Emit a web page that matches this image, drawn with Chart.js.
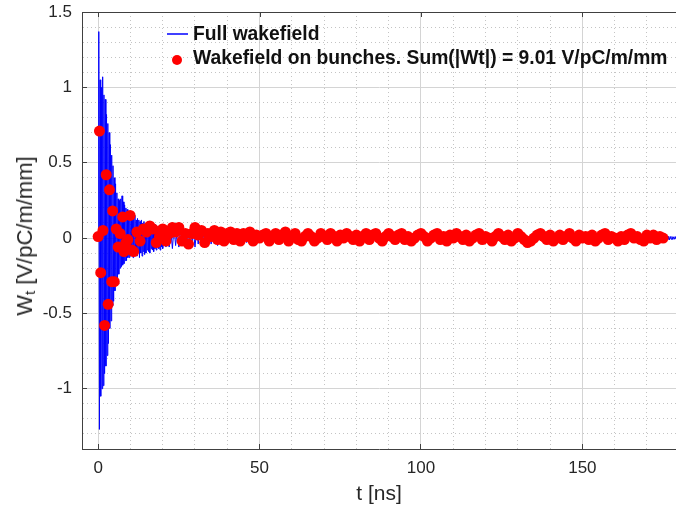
<!DOCTYPE html>
<html>
<head>
<meta charset="utf-8">
<script src="https://cdn.jsdelivr.net/npm/chart.js@4.4.1/dist/chart.umd.min.js"></script>
<style>
  body { margin: 0; background: #fff; overflow: hidden; }
  #wrap { position: relative; width: 676px; height: 508px; }
  #ytitle {
    position: absolute; left: 25px; top: 236px;
    transform: translate(-50%, -50%) rotate(-90deg);
    font: 22px "Liberation Sans", Arial, sans-serif; color: #262626; white-space: nowrap;
  }
  #ytitle sub { font-size: 15px; vertical-align: -3px; }
  #legend {
    position: absolute; left: 166px; top: 22px;
    font: bold 19.3px "Liberation Sans", Arial, sans-serif; color: #111;
  }
  .row { display: flex; align-items: center; height: 24px; white-space: nowrap; }
  .mk { width: 27px; position: relative; height: 24px; flex: none; }
  .ln { position: absolute; left: 1px; top: 11px; width: 21px; height: 2px; background: #4040ff; }
  .dot { position: absolute; left: 6px; top: 9px; width: 10px; height: 10px; border-radius: 50%; background: #ff0000; }
</style>
</head>
<body>
<div id="wrap">
  <canvas id="myChart" width="676" height="508"></canvas>
  <div id="ytitle">W<sub>t</sub> [V/pC/m/mm]</div>
  <div id="legend">
    <div class="row"><span class="mk"><span class="ln"></span></span>Full wakefield</div>
    <div class="row"><span class="mk"><span class="dot"></span></span>Wakefield on bunches. Sum(|Wt|) = 9.01 V/pC/m/mm</div>
  </div>
</div>
<script>
// full wakefield trace (t in ns, W in V/pC/m/mm)
const fullT = [
  0, 0.2, 0.4, 0.6, 0.8, 1, 1.2, 1.4, 1.6, 1.8,
  2, 2.2, 2.4, 2.6, 2.8, 3, 3.2, 3.4, 3.6, 3.8,
  4, 4.2, 4.4, 4.6, 4.8, 5, 5.2, 5.4, 5.6, 5.8,
  6, 6.2, 6.4, 6.6, 6.8, 7, 7.2, 7.4, 7.6, 7.8,
  8, 8.2, 8.4, 8.6, 8.8, 9, 9.2, 9.4, 9.6, 9.8,
  10, 10.2, 10.4, 10.6, 10.8, 11, 11.2, 11.4, 11.6, 11.8,
  12, 12.2, 12.4, 12.6, 12.8, 13, 13.2, 13.4, 13.6, 13.8,
  14, 14.2, 14.4, 14.6, 14.8, 15, 15.2, 15.4, 15.6, 15.8,
  16, 16.2, 16.4, 16.6, 16.8, 17, 17.2, 17.4, 17.6, 17.8,
  18, 18.2, 18.4, 18.6, 18.8, 19, 19.2, 19.4, 19.6, 19.8,
  20,
  20.5, 21, 21.5, 22, 22.5, 23, 23.5, 24, 24.5, 25,
  25.5, 26, 26.5, 27, 27.5, 28, 28.5, 29, 29.5, 30,
  30.5, 31, 31.5, 32, 32.5, 33, 33.5, 34, 34.5, 35,
  35.5, 36, 36.5, 37, 37.5, 38, 38.5, 39, 39.5, 40,
  40.5, 41, 41.5, 42, 42.5, 43, 43.5, 44, 44.5, 45,
  45.5, 46, 46.5, 47, 47.5, 48, 48.5, 49, 49.5, 50,
  54, 58, 62, 66, 70, 74, 78, 82, 86, 90, 94, 98, 102, 106, 110, 114,
  118, 122, 126, 130, 134, 138, 142, 146, 150, 154, 158, 162, 166, 170, 174,
  176, 176.25, 176.5, 176.75, 177, 177.25, 177.5, 177.75, 178, 178.25, 178.5, 178.75, 179
];
const fullW = [
  0, 1.37, -1.27, 1.05, -1.05, 1.0, -1.0, 1.07, -0.98, 0.95,
  -0.9, 0.92, -0.85, 0.82, -0.78, 0.76, -0.7, 0.7, -0.6, 0.62,
  -0.55, 0.55, -0.45, 0.48, -0.42, 0.4, -0.35, 0.36, -0.3, 0.3,
  -0.27, 0.26, -0.24, 0.25, -0.2, 0.26, -0.19, 0.28, -0.18, 0.24,
  -0.17, 0.22, -0.15, 0.2, -0.15, 0.19, -0.13, 0.18, -0.13, 0.16,
  -0.12, 0.16, -0.11, 0.14, -0.13, 0.13, -0.1, 0.15, -0.11, 0.12,
  -0.12, 0.13, -0.09, 0.12, -0.13, 0.11, -0.1, 0.12, -0.12, 0.1,
  -0.09, 0.11, -0.11, 0.09, -0.1, 0.1, -0.08, 0.11, -0.09, 0.09,
  -0.1, 0.08, -0.07, 0.1, -0.08, 0.09, -0.09, 0.08, -0.07, 0.09,
  -0.08, 0.07, -0.06, 0.08, -0.07, 0.07, -0.08, 0.06, -0.06, 0.07,
  -0.07,
  0.07, -0.06, 0.08, -0.06, 0.06, -0.07, 0.07, -0.05, 0.06, -0.06,
  0.07, -0.05, 0.05, -0.06, 0.06, -0.05, 0.06, -0.05, 0.05, -0.06,
  0.05, -0.04, 0.06, -0.05, 0.05, -0.05, 0.04, -0.05, 0.05, -0.04,
  0.05, -0.04, 0.04, -0.05, 0.05, -0.04, 0.04, -0.04, 0.05, -0.04,
  0.04, -0.03, 0.04, -0.04, 0.04, -0.03, 0.04, -0.04, 0.03, -0.03,
  0.04, -0.03, 0.03, -0.03, 0.04, -0.03, 0.03, -0.03, 0.03, -0.03,
  0.02, -0.02, 0.02, -0.01, 0.02, -0.02, 0.01, -0.02, 0.02, -0.01, 0.02, -0.01, 0.01, -0.02, 0.02, -0.01,
  0.01, -0.01, 0.02, -0.01, 0.01, -0.02, 0.01, -0.01, 0.01, -0.01, 0.02, -0.01, 0.01, -0.01, 0.01,
  -0.01, 0.012, -0.01, 0.01, -0.012, 0.01, -0.008, 0.01, -0.01, 0.008, -0.008, 0.01, -0.008
];

// wakefield sampled on the bunches
const bunchT = [
  0, 0.4, 0.8, 1.5, 2, 2.5, 3.1, 3.5, 4.2, 4.5, 5, 5.6, 6.2, 6.8, 7.6, 8, 8.6, 9.2, 9.9, 10.4,
  11, 12, 13, 14, 15, 16, 17, 18, 19, 20,
  21, 22, 23, 24, 25, 26, 27, 28, 29, 30,
  31, 32, 33, 34, 35, 36, 37, 38, 39, 40,
  41, 42, 43, 44, 45, 46, 47, 48, 49, 50,
  51, 52, 53, 54, 55, 56, 57, 58, 59, 60,
  61, 62, 63, 64, 65, 66, 67, 68, 69, 70,
  71, 72, 73, 74, 75, 76, 77, 78, 79, 80,
  81, 82, 83, 84, 85, 86, 87, 88, 89, 90,
  91, 92, 93, 94, 95, 96, 97, 98, 99, 100,
  101, 102, 103, 104, 105, 106, 107, 108, 109, 110,
  111, 112, 113, 114, 115, 116, 117, 118, 119, 120,
  121, 122, 123, 124, 125, 126, 127, 128, 129, 130,
  131, 132, 133, 134, 135, 136, 137, 138, 139, 140,
  141, 142, 143, 144, 145, 146, 147, 148, 149, 150,
  151, 152, 153, 154, 155, 156, 157, 158, 159, 160,
  161, 162, 163, 164, 165, 166, 167, 168, 169, 170,
  171, 172, 173, 174, 175
];
const bunchW = [
  0.01, 0.71, -0.23, 0.05, -0.58, 0.42, -0.44, 0.32, -0.29, 0.18, -0.29, 0.06, -0.06, 0.03, 0.14, -0.09, -0.03, -0.01, 0.15, -0.08,
  -0.09, 0.04, -0.02, 0.06, 0.04, 0.08, 0.06, -0.03, 0.01, 0.06,
  -0.02, 0.03, 0.07, 0.04, 0.07, -0.02, 0.03, -0.04, 0.03, 0.07,
  0.02, 0.05, -0.03, 0.03, 0.01, 0.05, -0.01, 0.04, -0.02, 0.03,
  0.04, -0.01, 0.03, -0.02, 0.03, 0.01, 0.04, -0.02, 0.02, 0,
  0.02, 0.03, -0.02, 0.01, 0.03, -0.01, 0.02, 0.04, -0.02, 0.01,
  0.03, -0.01, -0.02, 0.01, 0.03, 0.01, -0.02, 0, 0.03, 0.01,
  -0.01, 0.03, 0.01, -0.02, 0.02, 0, 0.03, 0.01, -0.01, 0.02,
  -0.02, 0.01, 0.03, -0.01, 0.02, 0.03, 0, -0.02, 0.01, 0.03,
  0.01, -0.01, 0.02, 0.03, -0.01, 0.01, -0.02, 0, 0.02, 0.03,
  0.01, -0.02, 0, 0.02, 0.03, -0.01, 0.01, -0.02, 0.02, 0,
  0.03, 0.01, -0.01, 0.02, -0.02, 0, 0.02, 0.03, -0.01, 0.01,
  0, -0.02, 0.01, 0.03, 0.01, -0.01, 0.02, -0.02, 0, 0.03,
  0.01, -0.01, -0.03, -0.02, 0, 0.02, 0.03, 0.01, -0.01, 0.02,
  -0.02, 0, 0.02, -0.01, 0.01, 0.03, 0, -0.02, 0.02, 0,
  0.01, -0.01, 0.02, -0.02, 0, 0.02, 0.03, -0.01, 0.01, 0,
  -0.02, 0.01, -0.01, 0.02, 0.03, 0, 0.01, -0.01, -0.02, 0.02,
  0, 0.02, -0.01, 0.01, 0
];

// axis ticks
const xTicks = [0, 10, 20, 30, 40, 50, 60, 70, 80, 90, 100, 110, 120, 130, 140, 150, 160, 170];
const xLabels = [0, 50, 100, 150];
const yTicks = [-1.3, -1.2, -1.1, -1, -0.9, -0.8, -0.7, -0.6, -0.5, -0.4, -0.3, -0.2, -0.1, 0,
  0.1, 0.2, 0.3, 0.4, 0.5, 0.6, 0.7, 0.8, 0.9, 1, 1.1, 1.2, 1.3, 1.4, 1.5];
const yLabels = [-1, -0.5, 0, 0.5, 1, 1.5];

const frameColor = '#404040';
const isMajorX = c => c.tick && xLabels.includes(c.tick.value);
const isMajorY = c => c.tick && yLabels.includes(c.tick.value);

// top edge of the box, with inward ticks like the octave frame
const boxFrame = {
  id: 'boxFrame',
  afterDraw(chart) {
    const {ctx, chartArea: a, scales} = chart;
    ctx.save();
    ctx.strokeStyle = frameColor;
    ctx.lineWidth = 1;
    ctx.beginPath();
    ctx.moveTo(a.left, a.top + 0.5);
    ctx.lineTo(a.right, a.top + 0.5);
    xLabels.forEach(v => {
      const px = Math.round(scales.x.getPixelForValue(v)) + 0.5;
      ctx.moveTo(px, a.top);
      ctx.lineTo(px, a.top + 5);
    });
    ctx.stroke();
    ctx.restore();
  }
};

const ctx = document.getElementById('myChart').getContext('2d');

new Chart(ctx, {
  type: 'scatter',
  data: {
    datasets: [
      {
        label: 'Full wakefield',
        data: fullT.map((t, i) => ({x: t, y: fullW[i]})),
        showLine: true,
        borderColor: '#0000ff',
        borderWidth: 1,
        pointRadius: 0,
        order: 2,
      },
      {
        label: 'Wakefield on bunches',
        data: bunchT.map((t, i) => ({x: t, y: bunchW[i]})),
        backgroundColor: '#ff0000',
        borderWidth: 0,
        pointRadius: 5.5,
        order: 1,
      },
    ],
  },
  options: {
    responsive: false,
    animation: false,
    devicePixelRatio: 1,
    layout: { autoPadding: false, padding: { top: 12, left: 0, right: 0, bottom: 0 } },
    plugins: { legend: { display: false }, tooltip: { enabled: false } },
    scales: {
      x: {
        type: 'linear',
        min: -5,
        max: 179,
        afterBuildTicks: s => { s.ticks = xTicks.map(v => ({value: v})); },
        afterFit: s => { s.height = 59; s.paddingLeft = 0; s.paddingRight = 0; },
        ticks: {
          autoSkip: false,
          maxRotation: 0,
          padding: 14,
          color: '#262626',
          font: { family: 'Liberation Sans', size: 17 },
          callback: v => (xLabels.includes(v) ? String(v) : ''),
        },
        grid: {
          color: c => (isMajorX(c) ? '#d4d4d4' : '#c4c4c4'),
          lineWidth: 1,
          tickLength: -5,
          tickColor: c => (isMajorX(c) ? frameColor : 'rgba(0,0,0,0)'),
        },
        border: {
          color: frameColor,
          width: 1,
          dash: c => (isMajorX(c) || !c.tick ? [] : [1, 3]),
        },
        title: {
          display: true,
          text: 't [ns]',
          color: '#262626',
          font: { family: 'Liberation Sans', size: 21 },
          padding: { top: 0, bottom: 1 },
        },
      },
      y: {
        min: -1.4,
        max: 1.5,
        afterBuildTicks: s => { s.ticks = yTicks.map(v => ({value: v})); },
        afterFit: s => { s.width = 82; s.paddingTop = 0; s.paddingBottom = 0; },
        ticks: {
          autoSkip: false,
          padding: 15,
          color: '#262626',
          font: { family: 'Liberation Sans', size: 17 },
          callback: v => (yLabels.includes(v) ? String(v) : ''),
        },
        grid: {
          color: c => (isMajorY(c) ? '#d4d4d4' : '#c4c4c4'),
          lineWidth: 1,
          tickLength: -5,
          tickColor: c => (isMajorY(c) ? frameColor : 'rgba(0,0,0,0)'),
        },
        border: {
          color: frameColor,
          width: 1,
          dash: c => (isMajorY(c) || !c.tick ? [] : [1, 3]),
        },
      },
    },
  },
  plugins: [boxFrame],
});
</script>
</body>
</html>
